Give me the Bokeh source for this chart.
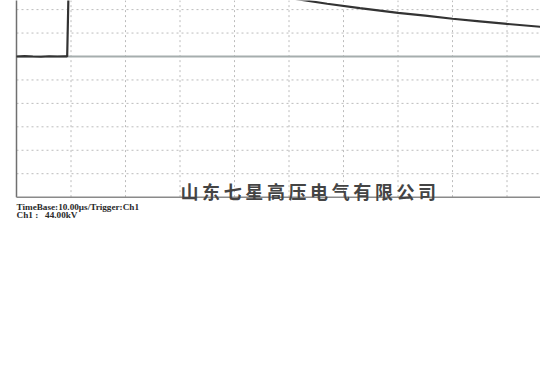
from bokeh.plotting import figure
from bokeh.models import Range1d
from bokeh.core.properties import value
from bokeh.embed import file_html
from bokeh.resources import INLINE

# ---- data (time in microseconds, Ch1 in screen divisions) ----
time_us = [0.0, 1.5, 3.0, 4.5, 6.0, 7.5, 9.0, 9.3, 9.7, 12, 16, 20, 25, 30, 35, 40,
           45, 50, 53, 57, 63, 70, 75, 80, 85, 90, 96.5]
ch1_div = [0.0, 0.02, 0.0, -0.01, 0.01, 0.0, 0.01, 0.0, 4.50, 4.38, 4.12, 3.88, 3.61,
           3.35, 3.11, 2.89, 2.69, 2.50, 2.39, 2.25, 2.06, 1.86, 1.74, 1.61, 1.50, 1.39, 1.26]
v_grid = [10, 20, 30, 40, 50, 60, 70, 80, 90]
h_grid = [-5, -4, -3, -2, -1, 1, 2]
frame_bottom = -6.0
frame_top = 4.0
company = "山东七星高压电气有限公司"
timebase_label = "TimeBase:10.00μs/Trigger:Ch1"
ch1_label = "Ch1 :  44.00kV"

# pixel scale of the scope screen
px_per_us = 5.45
px_per_div = 23.44
left_px, zero_px = 16, 56
W, H = 540, 371

p = figure(width=W, height=H, output_backend="svg", toolbar_location=None,
           x_range=Range1d(-left_px / px_per_us, (W - left_px) / px_per_us),
           y_range=Range1d((zero_px - H) / px_per_div, zero_px / px_per_div),
           min_border=0)
p.axis.visible = False
p.xgrid.visible = False
p.ygrid.visible = False
p.outline_line_color = None
p.background_fill_color = "white"
p.border_fill_color = "white"

xmax = (W - left_px) / px_per_us + 5

# dotted grid
for gx in v_grid:
    p.line([gx, gx], [frame_bottom, frame_top], line_color="#bcbcbc",
           line_width=1, line_dash="2 3")
for gy in h_grid:
    p.line([0, xmax], [gy, gy], line_color="#bcbcbc", line_width=1, line_dash="2 3")

# zero / trigger reference line
p.line([0, xmax], [0, 0], line_color="#a6aeae", line_width=2)

# frame borders
p.line([0, 0], [frame_bottom, frame_top], line_color="#707070", line_width=1.5)
p.line([0, xmax], [frame_bottom, frame_bottom], line_color="#8a8a8a", line_width=1.5)

# waveform
p.line(time_us, ch1_div, line_color="#333333", line_width=2.2)

# company name, characters spread like the scope printout
pitch_us = 21.6 / px_per_us
x0 = (189 - left_px) / px_per_us
y_name = (zero_px - 190) / px_per_div
xs = [x0 + i * pitch_us for i in range(len(company))]
p.text(x=xs, y=[y_name] * len(company), text=list(company),
       text_font=value("Noto Sans CJK SC"), text_font_size="18px",
       text_font_style="bold", text_color="#444444",
       text_align="center", text_baseline="middle")

# info lines
p.text(x=[0], y=[(zero_px - 206.5) / px_per_div], text=[timebase_label],
       text_font=value("Liberation Serif"), text_font_size="9.2px",
       text_font_style="bold", text_color="#2a2a2a",
       text_align="left", text_baseline="alphabetic")
p.text(x=[0], y=[(zero_px - 214.5) / px_per_div], text=[ch1_label.replace("  ", "\u00a0\u00a0 ")],
       text_font=value("Liberation Serif"), text_font_size="9.2px",
       text_font_style="bold", text_color="#2a2a2a",
       text_align="left", text_baseline="alphabetic")

open("out.html", "w").write(file_html(p, INLINE))
